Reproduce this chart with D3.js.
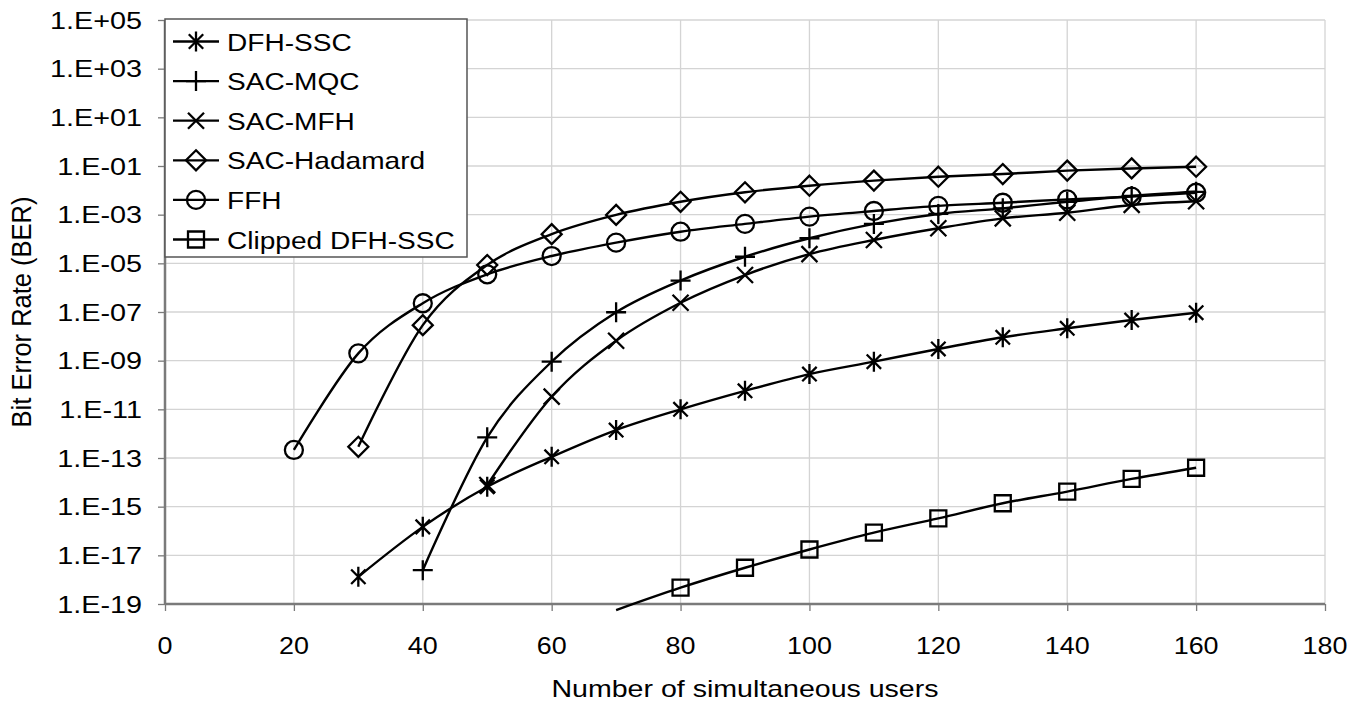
<!DOCTYPE html>
<html>
<head>
<meta charset="utf-8">
<script src="https://cdn.jsdelivr.net/npm/d3@7"></script>
<style>
  html, body { margin: 0; padding: 0; background: #fff; }
  svg { display: block; font-family: Arial, "Liberation Sans", sans-serif; }
</style>
</head>
<body>
<svg id="chart" width="1364" height="708"></svg>
<script>
// ---------------- data ----------------
const users = [20, 30, 40, 50, 60, 70, 80, 90, 100, 110, 120, 130, 140, 150, 160];
// log10(BER) values (null = no point)
const dfhSSC     = [null, -17.88, -15.83, -14.18, -12.95, -11.85, -11.0, -10.24, -9.55, -9.04, -8.52, -8.04, -7.67, -7.33, -7.03];
const sacMQC     = [null, null, -17.61, -12.15, -9.04, -7.01, -5.71, -4.73, -3.97, -3.38, -2.97, -2.74, -2.47, -2.23, -2.06];
const sacMFH     = [null, null, null, -14.11, -10.48, -8.18, -6.62, -5.48, -4.62, -4.04, -3.56, -3.15, -2.92, -2.60, -2.45];
const sacHadamard= [null, -12.54, -7.54, -5.07, -3.80, -3.01, -2.47, -2.08, -1.81, -1.60, -1.44, -1.33, -1.19, -1.10, -1.03];
const ffh        = [-12.67, -8.70, -6.64, -5.45, -4.70, -4.15, -3.70, -3.38, -3.08, -2.85, -2.64, -2.51, -2.37, -2.26, -2.10];
const clippedDFH = [null, null, null, null, null, -19.25, -18.33, -17.51, -16.76, -16.07, -15.48, -14.86, -14.38, -13.86, -13.40];

const seriesNames = ["DFH-SSC", "SAC-MQC", "SAC-MFH", "SAC-Hadamard", "FFH", "Clipped DFH-SSC"];
const seriesValues = [dfhSSC, sacMQC, sacMFH, sacHadamard, ffh, clippedDFH];
const seriesMarkers = ["asterisk", "plus", "cross", "diamond", "circle", "square"];

const xTicks = [0, 20, 40, 60, 80, 100, 120, 140, 160, 180];
const yTickExps = [5, 3, 1, -1, -3, -5, -7, -9, -11, -13, -15, -17, -19];
const yTickLabels = ["1.E+05", "1.E+03", "1.E+01", "1.E-01", "1.E-03", "1.E-05", "1.E-07", "1.E-09", "1.E-11", "1.E-13", "1.E-15", "1.E-17", "1.E-19"];
const xTitle = "Number of simultaneous users";
const yTitle = "Bit Error Rate (BER)";

// ---------------- layout ----------------
const svg = d3.select("#chart");
const pL = 165, pR = 1325, pT = 20, pB = 604;
const fontSize = 24, stretch = 1.12;

const x = d3.scaleLinear().domain([0, 180]).range([pL, pR]);
const y = d3.scaleLog().domain([1e-19, 1e5]).range([pB, pT]);

// grid
const grid = svg.append("g");
grid.selectAll("line.h").data(yTickExps).join("line")
  .attr("x1", pL).attr("x2", pR)
  .attr("y1", d => y(Math.pow(10, d))).attr("y2", d => y(Math.pow(10, d)))
  .attr("stroke", "#d4d4d4").attr("stroke-width", 1.3);
grid.selectAll("line.v").data(xTicks).join("line")
  .attr("y1", pT).attr("y2", pB)
  .attr("x1", d => x(d)).attr("x2", d => x(d))
  .attr("stroke", "#d4d4d4").attr("stroke-width", 1.3);

// axes
const xAxis = d3.axisBottom(x).tickValues(xTicks).tickSize(7).tickFormat("");
const gx = svg.append("g").attr("transform", `translate(0,${pB})`).call(xAxis);
gx.select(".domain").attr("stroke", "#7a7a7a").attr("stroke-width", 2.5).attr("d", `M${pL},0H${pR}`);
gx.selectAll(".tick line").attr("stroke", "#7a7a7a").attr("stroke-width", 1.3);

const yAxis = d3.axisLeft(y).tickValues(yTickExps.map(e => Math.pow(10, e))).tickSize(7).tickFormat("");
const gy = svg.append("g").attr("transform", `translate(${pL},0)`).call(yAxis);
gy.select(".domain").attr("stroke", "#7a7a7a").attr("stroke-width", 2.5).attr("d", `M0,${pT}V${pB}`);
gy.selectAll(".tick line").attr("stroke", "#7a7a7a").attr("stroke-width", 1.3);

// tick labels
svg.append("g").selectAll("text").data(xTicks).join("text")
  .attr("transform", d => `translate(${x(d)},${pB + 50}) scale(${stretch},1)`)
  .attr("text-anchor", "middle").attr("font-size", fontSize).attr("fill", "#000")
  .text(d => d);
svg.append("g").selectAll("text").data(yTickExps).join("text")
  .attr("transform", d => `translate(${pL - 23},${y(Math.pow(10, d)) + 8.5}) scale(1.2,1)`)
  .attr("text-anchor", "end").attr("font-size", fontSize).attr("fill", "#000")
  .text((d, i) => yTickLabels[i]);

// titles
svg.append("text")
  .attr("transform", `translate(${(pL + pR) / 2},697) scale(${stretch + 0.07},1)`)
  .attr("text-anchor", "middle").attr("font-size", fontSize).text(xTitle);
svg.append("text")
  .attr("transform", `translate(31,${(pT + pB) / 2}) scale(${stretch},1) rotate(-90)`)
  .attr("text-anchor", "middle").attr("font-size", 25.5).text(yTitle);

// ---------------- series ----------------
svg.append("clipPath").attr("id", "clip").append("rect")
  .attr("x", pL).attr("y", pT).attr("width", pR - pL).attr("height", pB - pT + 8);

const line = d3.line()
  .x(d => x(d.u)).y(d => y(Math.pow(10, d.v)))
  .curve(d3.curveCardinal.tension(0));

function markerPath(type) {
  const r = 10;
  switch (type) {
    case "asterisk": {
      const a = r * 0.72;
      return `M${-a},${-a}L${a},${a}M${-a},${a}L${a},${-a}M0,${-r}V${r}`;
    }
    case "plus": return `M${-r},0H${r}M0,${-r}V${r}`;
    case "cross": { const a = r * 0.8; return `M${-a},${-a}L${a},${a}M${-a},${a}L${a},${-a}`; }
    case "diamond": return `M0,${-r}L${r},0L0,${r}L${-r},0Z`;
    case "circle": { const c = 9; return `M${c},0A${c},${c} 0 1,1 ${-c},0A${c},${c} 0 1,1 ${c},0Z`; }
    case "square": { const s = 8; return `M${-s},${-s}H${s}V${s}H${-s}Z`; }
  }
}

seriesValues.forEach((vals, si) => {
  const pts = users.map((u, i) => ({ u, v: vals[i] })).filter(d => d.v !== null);
  const g = svg.append("g");
  g.append("path").datum(pts).attr("d", line)
    .attr("fill", "none").attr("stroke", "#000").attr("stroke-width", 2.4)
    .attr("clip-path", "url(#clip)");
  const type = seriesMarkers[si];
  g.selectAll("path.m").data(pts.filter(d => d.v >= -19)).join("path")
    .attr("class", "m")
    .attr("transform", d => `translate(${x(d.u)},${y(Math.pow(10, d.v))})`)
    .attr("d", markerPath(type))
    .attr("fill", "none")
    .attr("stroke", "#000").attr("stroke-width", 2.3);
});

// ---------------- legend ----------------
const lg = svg.append("g");
lg.append("rect").attr("x", 165).attr("y", 19).attr("width", 302).attr("height", 238)
  .attr("fill", "#fff").attr("stroke", "#555").attr("stroke-width", 1.5);
const rowY = d3.scaleLinear().domain([0, 5]).range([41.5, 239.5]);
seriesNames.forEach((name, i) => {
  const yy = rowY(i);
  lg.append("line").attr("x1", 173).attr("x2", 219).attr("y1", yy).attr("y2", yy)
    .attr("stroke", "#000").attr("stroke-width", 2.3);
  lg.append("path").attr("transform", `translate(196,${yy})`).attr("d", markerPath(seriesMarkers[i]))
    .attr("fill", "none").attr("stroke", "#000").attr("stroke-width", 2.3);
  lg.append("text").attr("transform", `translate(227,${yy + 9}) scale(1.17,1)`)
    .attr("font-size", fontSize).text(name);
});
</script>
</body>
</html>
